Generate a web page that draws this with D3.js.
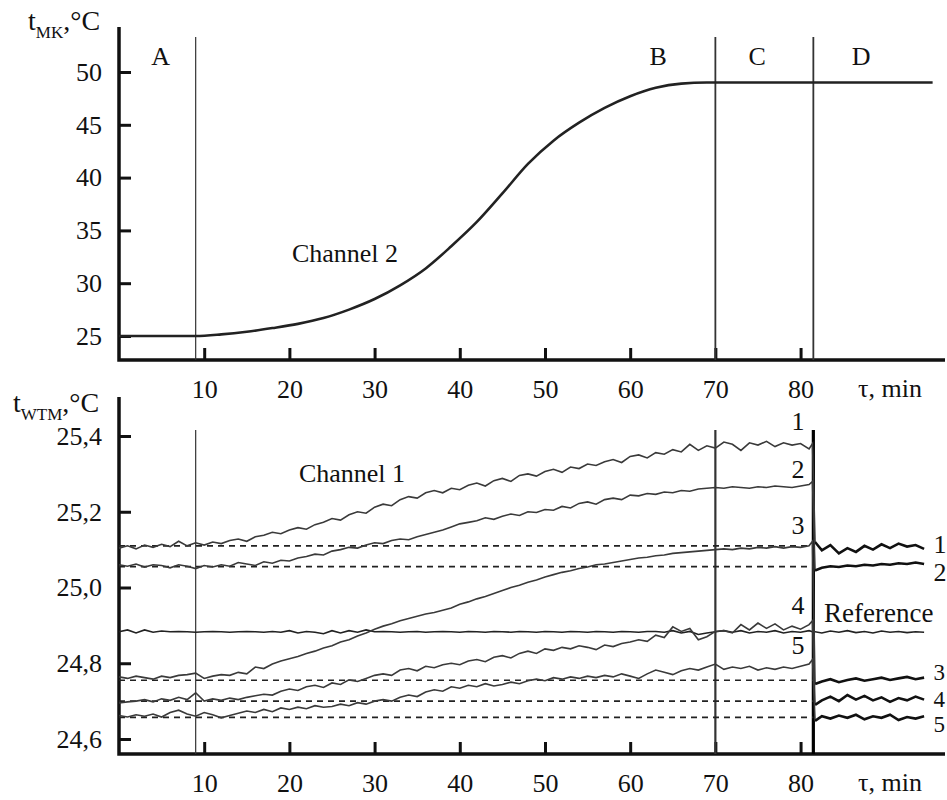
<!DOCTYPE html>
<html>
<head>
<meta charset="utf-8">
<script src="https://cdn.jsdelivr.net/npm/d3@7"></script>
<style>
  body { margin: 0; background: #fff; }
  svg { display: block; font-family: "Liberation Serif", "Times New Roman", serif; }
  svg text { font-family: "Liberation Serif", "Times New Roman", serif; }
</style>
</head>
<body>
<svg width="947" height="800"></svg>
<script>
// ---- data ----

// top panel: channel 2 (MK temperature)
const ch2Time = [0, 5, 9, 12, 15, 18, 21, 24, 27, 30, 33, 36, 39, 42, 45, 48, 51, 54, 57, 60, 63, 66, 69, 75, 85, 95.5];
const ch2Temp = [25.0, 25.0, 25.0, 25.15, 25.4, 25.75, 26.15, 26.7, 27.5, 28.5, 29.8, 31.4, 33.5, 35.8, 38.5, 41.3, 43.5, 45.2, 46.6, 47.7, 48.5, 48.9, 49.0, 49.0, 49.0, 49.0];

const stageTimes = [9, 70, 81.5];
const stageLabels = ['A', 'B', 'C', 'D'];
const xTicks = [10, 20, 30, 40, 50, 60, 70, 80];
const topTicks = [25, 30, 35, 40, 45, 50];
const botTicks = [24.6, 24.8, 25.0, 25.2, 25.4];

// bottom panel: channel 1 (WTM temperature), one sample per minute up to 81, then 81.4
const preTime = d3.range(0, 82).concat([81.4]);
const postTime = [81.7, 82.5, 83.5, 84.5, 85.5, 86.5, 87.5, 88.5, 89.5, 90.5, 91.5, 92.5, 93.5, 94.5];

const sensor1 = [25.104, 25.110, 25.102, 25.112, 25.106, 25.114, 25.108, 25.122, 25.110, 25.118,
  25.112, 25.120, 25.116, 25.124, 25.128, 25.122, 25.134, 25.138, 25.146, 25.142,
  25.152, 25.158, 25.154, 25.166, 25.172, 25.182, 25.178, 25.192, 25.200, 25.196,
  25.212, 25.220, 25.216, 25.232, 25.240, 25.236, 25.250, 25.256, 25.250, 25.262,
  25.258, 25.270, 25.276, 25.268, 25.282, 25.288, 25.280, 25.296, 25.300, 25.294,
  25.306, 25.312, 25.304, 25.318, 25.314, 25.326, 25.322, 25.332, 25.338, 25.330,
  25.346, 25.350, 25.342, 25.356, 25.352, 25.364, 25.358, 25.378, 25.362, 25.374,
  25.368, 25.384, 25.378, 25.362, 25.382, 25.376, 25.386, 25.372, 25.382, 25.376,
  25.380, 25.366, 25.380];
const sensor2 = [25.060, 25.056, 25.062, 25.054, 25.060, 25.058, 25.052, 25.060, 25.056, 25.050,
  25.058, 25.054, 25.060, 25.056, 25.066, 25.062, 25.058, 25.068, 25.064, 25.072,
  25.070, 25.078, 25.082, 25.088, 25.086, 25.096, 25.100, 25.106, 25.104, 25.112,
  25.118, 25.116, 25.124, 25.128, 25.126, 25.134, 25.140, 25.146, 25.152, 25.160,
  25.168, 25.172, 25.176, 25.184, 25.180, 25.188, 25.194, 25.190, 25.200, 25.198,
  25.206, 25.204, 25.214, 25.210, 25.222, 25.226, 25.220, 25.232, 25.236, 25.232,
  25.244, 25.242, 25.248, 25.246, 25.252, 25.250, 25.256, 25.254, 25.260, 25.262,
  25.264, 25.262, 25.266, 25.264, 25.262, 25.266, 25.264, 25.268, 25.266, 25.264,
  25.268, 25.272, 25.280];
const sensor3 = [24.764, 24.760, 24.766, 24.762, 24.758, 24.766, 24.762, 24.768, 24.770, 24.774,
  24.760, 24.766, 24.770, 24.768, 24.776, 24.772, 24.790, 24.786, 24.798, 24.806,
  24.812, 24.818, 24.826, 24.832, 24.840, 24.846, 24.856, 24.862, 24.872, 24.880,
  24.890, 24.898, 24.904, 24.912, 24.918, 24.924, 24.930, 24.934, 24.940, 24.946,
  24.956, 24.962, 24.970, 24.976, 24.984, 24.992, 25.000, 25.006, 25.014, 25.020,
  25.028, 25.034, 25.040, 25.044, 25.050, 25.054, 25.060, 25.062, 25.066, 25.070,
  25.074, 25.078, 25.080, 25.084, 25.086, 25.090, 25.092, 25.094, 25.096, 25.098,
  25.100, 25.102, 25.100, 25.104, 25.102, 25.106, 25.104, 25.108, 25.104, 25.108,
  25.106, 25.110, 25.122];
const sensor4 = [24.695, 24.698, 24.700, 24.704, 24.698, 24.706, 24.702, 24.710, 24.704, 24.722,
  24.700, 24.706, 24.702, 24.708, 24.704, 24.710, 24.714, 24.718, 24.716, 24.726,
  24.732, 24.728, 24.738, 24.742, 24.736, 24.748, 24.744, 24.756, 24.752, 24.760,
  24.768, 24.772, 24.768, 24.782, 24.786, 24.780, 24.792, 24.788, 24.796, 24.800,
  24.796, 24.806, 24.810, 24.804, 24.816, 24.820, 24.814, 24.826, 24.832, 24.826,
  24.838, 24.834, 24.842, 24.838, 24.846, 24.842, 24.836, 24.848, 24.844, 24.852,
  24.856, 24.862, 24.858, 24.874, 24.868, 24.896, 24.884, 24.892, 24.862, 24.870,
  24.884, 24.886, 24.880, 24.902, 24.888, 24.906, 24.892, 24.904, 24.888, 24.898,
  24.890, 24.902, 24.912];
const sensor5 = [24.662, 24.658, 24.664, 24.660, 24.666, 24.658, 24.670, 24.676, 24.666, 24.660,
  24.670, 24.664, 24.656, 24.662, 24.668, 24.674, 24.670, 24.678, 24.672, 24.682,
  24.678, 24.684, 24.680, 24.688, 24.684, 24.686, 24.692, 24.688, 24.696, 24.692,
  24.700, 24.704, 24.700, 24.710, 24.716, 24.712, 24.724, 24.730, 24.726, 24.738,
  24.734, 24.742, 24.738, 24.746, 24.740, 24.744, 24.750, 24.746, 24.754, 24.758,
  24.754, 24.762, 24.758, 24.764, 24.760, 24.766, 24.762, 24.768, 24.764, 24.772,
  24.766, 24.760, 24.772, 24.782, 24.776, 24.770, 24.780, 24.786, 24.782, 24.790,
  24.798, 24.784, 24.790, 24.786, 24.792, 24.782, 24.788, 24.784, 24.790, 24.786,
  24.792, 24.798, 24.810];
const reference = [24.883, 24.888, 24.880, 24.888, 24.882, 24.885, 24.883, 24.884, 24.883, 24.882,
  24.883, 24.884, 24.883, 24.882, 24.883, 24.884, 24.883, 24.882, 24.884, 24.882,
  24.886, 24.880, 24.884, 24.882, 24.878, 24.886, 24.880, 24.886, 24.882, 24.888,
  24.883, 24.884, 24.883, 24.882, 24.883, 24.884, 24.882, 24.883, 24.884, 24.883,
  24.882, 24.884, 24.883, 24.882, 24.884, 24.883, 24.882, 24.884, 24.883, 24.882,
  24.884, 24.883, 24.882, 24.884, 24.883, 24.882, 24.884, 24.883, 24.882, 24.884,
  24.883, 24.882, 24.884, 24.884, 24.882, 24.886, 24.880, 24.884, 24.876, 24.880,
  24.883, 24.886, 24.882, 24.886, 24.880, 24.884, 24.882, 24.886, 24.880, 24.884,
  24.882, 24.886, 24.883];

// after the switch-over (stage D)
const sensor1After = [25.120, 25.098, 25.112, 25.090, 25.104, 25.094, 25.110, 25.100, 25.114, 25.104, 25.116, 25.108, 25.112, 25.102];
const sensor2After = [25.045, 25.052, 25.056, 25.054, 25.058, 25.056, 25.060, 25.058, 25.062, 25.060, 25.064, 25.062, 25.066, 25.062];
const sensor3After = [24.745, 24.752, 24.758, 24.750, 24.756, 24.760, 24.754, 24.758, 24.762, 24.756, 24.760, 24.764, 24.758, 24.762];
const sensor4After = [24.690, 24.702, 24.712, 24.700, 24.716, 24.704, 24.714, 24.702, 24.710, 24.698, 24.708, 24.702, 24.712, 24.704];
const sensor5After = [24.648, 24.660, 24.654, 24.662, 24.656, 24.664, 24.652, 24.660, 24.656, 24.664, 24.650, 24.658, 24.654, 24.660];
const referenceAfter = [24.883, 24.880, 24.885, 24.882, 24.886, 24.881, 24.884, 24.880, 24.885, 24.882, 24.884, 24.881, 24.883, 24.882];

// initial levels (dashed)
const baselines = [25.110, 25.055, 24.755, 24.700, 24.657];
const sensorNames = ['1', '2', '3', '4', '5'];

// ---- drawing ----

const svg = d3.select('svg');
const x = d3.scaleLinear().domain([0, 97]).range([119, 945.4]);
const yTop = d3.scaleLinear().domain([25, 50]).range([336, 72]);
const yBot = d3.scaleLinear().domain([24.6, 25.4]).range([739, 436]);
const comma = d => d3.format('.1f')(d).replace('.', ',');

function axes(axisY, yScale, ticks, fmt, axisTop) {
  const gx = svg.append('g')
    .attr('transform', 'translate(0,' + axisY + ')')
    .call(d3.axisBottom(x).tickValues(xTicks).tickSizeInner(-12).tickSizeOuter(0).tickPadding(20));
  const gy = svg.append('g')
    .attr('transform', 'translate(119,0)')
    .call(d3.axisLeft(yScale).tickValues(ticks).tickFormat(fmt).tickSizeInner(-12).tickSizeOuter(0).tickPadding(17));
  [gx, gy].forEach(g => {
    g.attr('font-family', null).attr('font-size', null);
    g.select('.domain').remove();
    g.selectAll('line').attr('stroke', '#111').attr('stroke-width', 3);
    g.selectAll('text').attr('font-size', 26).attr('fill', '#111')
      .attr('font-family', '"Liberation Serif", serif');
  });
  svg.append('path')
    .attr('d', 'M119,' + axisTop + 'V' + axisY + 'H945')
    .attr('fill', 'none').attr('stroke', '#111').attr('stroke-width', 3.5);
  svg.append('text').attr('x', 858).attr('y', axisY + 37)
    .attr('font-size', 26).attr('fill', '#111').text('τ, min');
}

function axisTitle(xPos, yPos, sub) {
  const t = svg.append('text').attr('x', xPos).attr('y', yPos)
    .attr('font-size', 28).attr('fill', '#111');
  t.append('tspan').text('t');
  t.append('tspan').attr('dy', 8).attr('font-size', 17).text(sub);
  t.append('tspan').attr('dy', -8).text(',°C');
}

// top panel
axes(360, yTop, topTicks, d3.format('d'), 27);
axisTitle(28, 30, 'MK');

stageTimes.forEach((t, i) => {
  svg.append('line')
    .attr('x1', x(t)).attr('x2', x(t)).attr('y1', 37).attr('y2', 360)
    .attr('stroke', '#333').attr('stroke-width', i === 0 ? 1.2 : 1.8);
});
[4.9, 63.3, 74.9, 87.1].forEach((t, i) => {
  svg.append('text').attr('x', x(t)).attr('y', 65)
    .attr('text-anchor', 'middle').attr('font-size', 26).attr('fill', '#111')
    .text(stageLabels[i]);
});

const topLine = d3.line().x(d => x(d[0])).y(d => yTop(d[1])).curve(d3.curveMonotoneX);
svg.append('path')
  .attr('d', topLine(d3.zip(ch2Time, ch2Temp)))
  .attr('fill', 'none').attr('stroke', '#222').attr('stroke-width', 2.6);

svg.append('text').attr('x', 345).attr('y', 262)
  .attr('text-anchor', 'middle').attr('font-size', 26).attr('fill', '#111').text('Channel 2');

// bottom panel
axes(754, yBot, botTicks, comma, 397);
axisTitle(13, 412, 'WTM');

stageTimes.forEach((t, i) => {
  svg.append('line')
    .attr('x1', x(t)).attr('x2', x(t)).attr('y1', 430).attr('y2', 754)
    .attr('stroke', i === 2 ? '#000' : '#333').attr('stroke-width', [1.2, 2.2, 3.2][i]);
});

const line = d3.line().x(d => x(d[0])).y(d => yBot(d[1]));

baselines.forEach(b => {
  svg.append('line')
    .attr('x1', x(0)).attr('x2', x(81.5)).attr('y1', yBot(b)).attr('y2', yBot(b))
    .attr('stroke', '#222').attr('stroke-width', 1.6).attr('stroke-dasharray', '6,5');
});

// reference, full length
svg.append('path')
  .attr('d', line(d3.zip(preTime.concat(postTime), reference.concat(referenceAfter))))
  .attr('fill', 'none').attr('stroke', '#222').attr('stroke-width', 1.6);

const sensors = [
  [sensor1, sensor1After], [sensor2, sensor2After], [sensor3, sensor3After],
  [sensor4, sensor4After], [sensor5, sensor5After]
];
sensors.forEach(([pre, post]) => {
  svg.append('path')
    .attr('d', line(d3.zip(preTime, pre).concat([[postTime[0], post[0]]])))
    .attr('fill', 'none').attr('stroke', '#3a3a3a').attr('stroke-width', 1.6);
  svg.append('path')
    .attr('d', line(d3.zip(postTime, post)))
    .attr('fill', 'none').attr('stroke', '#111').attr('stroke-width', 2.6);
});

// labels at the curve ends
const endLabelY = [25.415, 25.29, 25.14, 24.93, 24.825];
endLabelY.forEach((v, i) => {
  svg.append('text').attr('x', x(79.7)).attr('y', yBot(v))
    .attr('text-anchor', 'middle').attr('font-size', 26).attr('fill', '#111')
    .text(sensorNames[i]);
});
const rightLabelY = [25.09, 25.016, 24.757, 24.685, 24.618];
const rightLabelSize = [26, 26, 23, 23, 23];
rightLabelY.forEach((v, i) => {
  svg.append('text').attr('x', x(95.6)).attr('y', yBot(v))
    .attr('font-size', rightLabelSize[i]).attr('fill', '#111').text(sensorNames[i]);
});
svg.append('text').attr('x', 824).attr('y', yBot(24.91))
  .attr('font-size', 27).attr('fill', '#111').text('Reference');
svg.append('text').attr('x', 352).attr('y', 482)
  .attr('text-anchor', 'middle').attr('font-size', 26).attr('fill', '#111').text('Channel 1');
</script>
</body>
</html>
